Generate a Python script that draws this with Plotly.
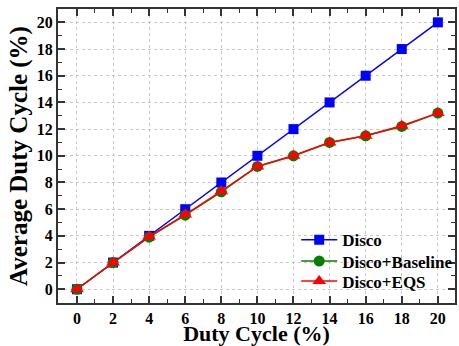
import plotly.graph_objects as go

duty = [0, 2, 4, 6, 8, 10, 12, 14, 16, 18, 20]
disco = [0, 2, 4, 6, 8, 10, 12, 14, 16, 18, 20]
disco_baseline = [0, 2.0, 3.9, 5.55, 7.3, 9.2, 10.0, 11.0, 11.5, 12.2, 13.2]
disco_eqs = [0, 2.0, 3.95, 5.6, 7.35, 9.2, 10.0, 11.0, 11.5, 12.25, 13.2]
xticks = [0, 2, 4, 6, 8, 10, 12, 14, 16, 18, 20]
yticks = [0, 2, 4, 6, 8, 10, 12, 14, 16, 18, 20]

font = "Liberation Serif"

fig = go.Figure()
fig.add_trace(go.Scatter(x=duty, y=disco, name="Disco", mode="lines+markers",
                         line=dict(color="#0000ff", width=1.5), legend="legend",
                         marker=dict(symbol="square", size=10, color="#0000ff")))
fig.add_trace(go.Scatter(x=duty, y=disco_baseline, name="Disco+Baseline", mode="lines+markers",
                         line=dict(color="#008000", width=1.5), legend="legend2",
                         marker=dict(symbol="circle", size=11, color="#008000")))
fig.add_trace(go.Scatter(x=duty, y=disco_eqs, name="Disco+EQS", mode="lines+markers",
                         line=dict(color="#ff0000", width=1.5), legend="legend3",
                         marker=dict(symbol="triangle-up", size=12, color="#ff0000")))

axis_common = dict(
    showline=True, linecolor="#333333", linewidth=2, mirror="allticks",
    ticks="inside", ticklen=7, tickwidth=1.5, tickcolor="#333333",
    showgrid=True, gridcolor="#c8c8c8", griddash="dot", gridwidth=1,
    zeroline=False, automargin=False,
    minor=dict(ticks="inside", ticklen=4, dtick=1, tickcolor="#333333", tickwidth=1.2, showgrid=False),
    tickfont=dict(family=font, size=16, color="black", weight="bold"),
)
fig.update_xaxes(range=[-1.05, 20.95], tickvals=xticks, ticktext=[str(v) for v in xticks],
                 title=dict(text="Duty Cycle (%)", font=dict(family=font, size=22, color="black", weight="bold"), standoff=5),
                 **axis_common)
fig.update_yaxes(range=[-1.03, 21.0], tickvals=yticks, ticktext=[str(v) for v in yticks],
                 title=dict(text="Average Duty Cycle (%)", font=dict(family=font, size=25, color="black", weight="bold"), standoff=2),
                 **axis_common)

leg = dict(x=0.6, xanchor="left", yanchor="middle", bgcolor="rgba(0,0,0,0)",
           font=dict(family=font, size=17, color="black", weight="bold"), itemwidth=36)
fig.update_layout(
    width=459, height=346,
    margin=dict(l=58, r=1, t=9, b=43),
    plot_bgcolor="white", paper_bgcolor="white",
    legend=dict(y=0.214, **leg),
    legend2=dict(y=0.141, **leg),
    legend3=dict(y=0.073, **leg),
    showlegend=True,
)
fig.write_html("out.html")
